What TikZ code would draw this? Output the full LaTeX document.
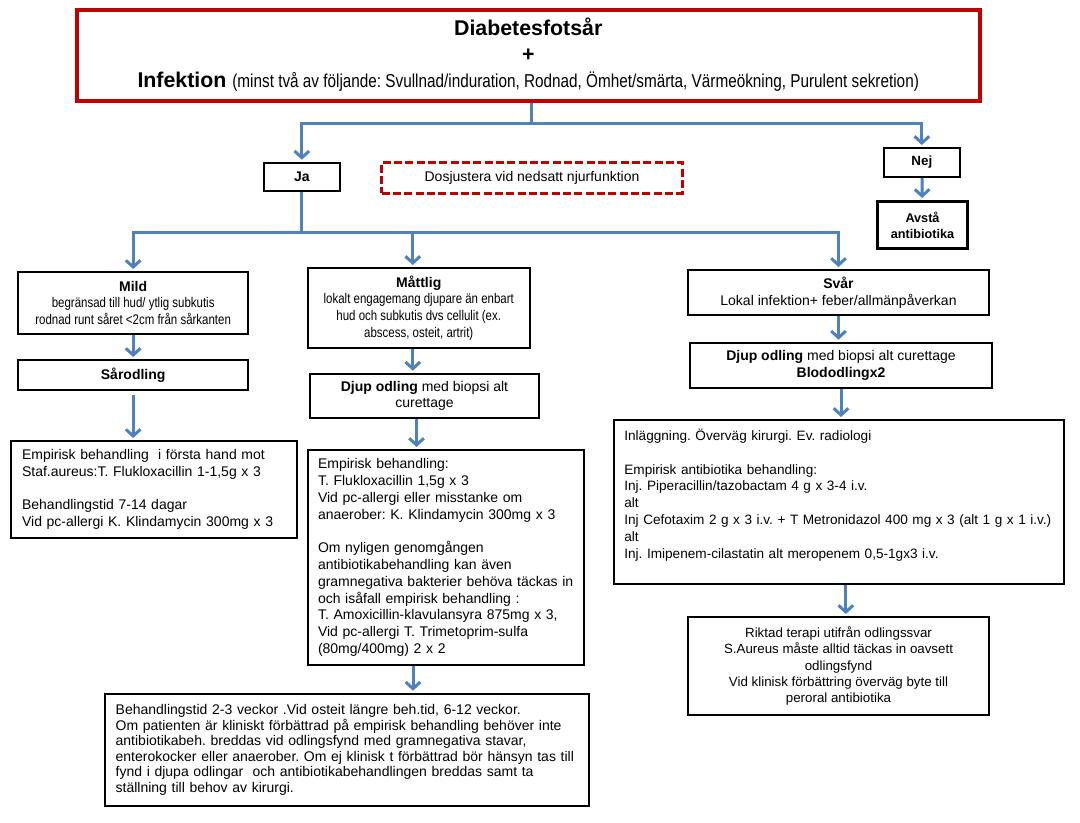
\documentclass[tikz,border=0pt]{standalone}
\usepackage{fontspec}
\setmainfont{Liberation Sans}
\newfontfamily\narrowfont{Liberation Sans}[FakeStretch=0.82]
\usetikzlibrary{arrows.meta,calc}

\definecolor{flowblue}{RGB}{79,129,189}
\definecolor{alertred}{RGB}{192,0,0}

\tikzset{every picture/.style={line width=0.75pt}}
\frenchspacing

\begin{document}
\begin{tikzpicture}[x=0.75pt,y=0.75pt,yscale=-1,xscale=1,
  box/.style={draw=black,line width=1.5pt,rectangle,anchor=north west,inner sep=0pt,align=center,font=\fontsize{10.5}{12.6}\selectfont},
  leftbox/.style={box,align=left,inner xsep=8pt},
  flow/.style={draw=flowblue,line width=2.25pt,-{Straight Barb[length=5pt,width=11pt]},shorten >=1.5pt},
  trunk/.style={draw=flowblue,line width=2.25pt}]

\useasboundingbox (0,0) rectangle (1080,822);

%Shape: Rectangle
\node [box,draw=alertred,line width=3pt,minimum width=677.6pt,minimum height=68.25pt,font=\fontsize{16}{19.5}\selectfont\bfseries] (top) at (74.5,7.5) {Diabetesfotsår\\+\\Infektion {\narrowfont\mdseries\fontsize{14}{19.5}\selectfont (minst två av följande: Svullnad/induration, Rodnad, Ömhet/smärta, Värmeökning, Purulent sekretion)}};
%Shape: Rectangle
\node [box,minimum width=57.2pt,minimum height=21.2pt,font=\fontsize{10.5}{12.6}\selectfont\bfseries] (ja) at (262.7,161.7) {Ja};
%Shape: Rectangle
\node [box,draw=alertred,line width=2.25pt,dash pattern=on 6pt off 2.5pt,minimum width=225.75pt,minimum height=22.9pt] (dos) at (380,161) {Dosjustera vid nedsatt njurfunktion};
%Shape: Rectangle
\node [box,minimum width=57.2pt,minimum height=21.75pt,font=\fontsize{10}{12.2}\selectfont\bfseries] (nej) at (882.7,147) {Nej};
%Shape: Rectangle
\node [box,line width=2.25pt,minimum width=67.5pt,minimum height=35.25pt,font=\fontsize{9.5}{12.2}\selectfont\bfseries] (avsta) at (876,200) {Avstå\\antibiotika};

% Mild
\node [box,minimum width=172.3pt,minimum height=46.3pt] (mild) at (17.3,271) {\textbf{Mild}\\{\narrowfont begränsad till hud/ ytlig subkutis}\\{\narrowfont rodnad runt såret <2cm från sårkanten}};
\node [box,minimum width=172.3pt,minimum height=22.5pt,font=\fontsize{10.5}{12.6}\selectfont\bfseries] (sarod) at (17.3,359) {Sårodling};
\node [leftbox,minimum width=214.2pt,minimum height=72.75pt,text width=198.2pt] (mildemp) at (10.4,440) {Empirisk behandling~ i första hand mot\\Staf.aureus:T. Flukloxacillin 1-1,5g x 3\\[12.6pt]Behandlingstid 7-14 dagar\\Vid pc-allergi K. Klindamycin 300mg x 3};

% Mattlig
\node [box,minimum width=166.9pt,minimum height=60pt] (matt) at (306.5,267) {\textbf{Måttlig}\\{\narrowfont lokalt engagemang djupare än enbart}\\{\narrowfont hud och subkutis dvs cellulit (ex.}\\{\narrowfont abscess, osteit, artrit)}};
\node [box,minimum width=171.75pt,minimum height=33.2pt] (mdjup) at (309,372.7) {\textbf{Djup odling} med biopsi alt\\curettage};
\node [leftbox,inner xsep=7.5pt,minimum width=207pt,minimum height=161.25pt,text width=192pt] (memp) at (307,449) {Empirisk behandling:\\T. Flukloxacillin 1,5g x 3\\Vid pc-allergi eller misstanke om\\anaerober: K. Klindamycin 300mg x 3\\[12.6pt]Om nyligen genomgången\\antibiotikabehandling kan även\\gramnegativa bakterier behöva täckas in\\och isåfall empirisk behandling :\\T. Amoxicillin-klavulansyra 875mg x 3,\\Vid pc-allergi T. Trimetoprim-sulfa\\(80mg/400mg) 2 x 2};
\node [leftbox,inner xsep=8pt,minimum width=363pt,minimum height=84.2pt,text width=347pt,font=\fontsize{10.5}{11.6}\selectfont] (bottom) at (104,692.7) {Behandlingstid 2-3 veckor .Vid osteit längre beh.tid, 6-12 veckor.\\Om patienten är kliniskt förbättrad på empirisk behandling behöver inte\\antibiotikabeh. breddas vid odlingsfynd med gramnegativa stavar,\\enterokocker eller anaerober. Om ej klinisk t förbättrad bör hänsyn tas till\\fynd i djupa odlingar~ och antibiotikabehandlingen breddas samt ta\\ställning till behov av kirurgi.};

% Svar
\node [box,minimum width=225.75pt,minimum height=33.75pt] (svar) at (687,269) {\textbf{Svår}\\Lokal infektion+ feber/allmänpåverkan};
\node [box,minimum width=226.5pt,minimum height=34pt] (rdjup) at (689,341.7) {\textbf{Djup odling} med biopsi alt curettage\\\textbf{Blododlingx2}};
\node [leftbox,minimum width=337.7pt,minimum height=123pt,text width=321.7pt,font=\fontsize{10.2}{12.6}\selectfont] (remp) at (612.7,419) {Inläggning. Överväg kirurgi. Ev. radiologi\\[12.6pt]Empirisk antibiotika behandling:\\Inj. Piperacillin/tazobactam 4 g x 3-4 i.v.\\alt\\\mbox{Inj Cefotaxim 2 g x 3 i.v. + T Metronidazol 400 mg x 3 (alt 1 g x 1 i.v.)}\\alt\\Inj. Imipenem-cilastatin alt meropenem 0,5-1gx3 i.v.\\\mbox{}};
\node [box,minimum width=225.75pt,minimum height=73.5pt,font=\fontsize{10}{12.2}\selectfont] (final) at (687,616) {Riktad terapi utifrån odlingssvar\\S.Aureus måste alltid täckas in oavsett\\odlingsfynd\\Vid klinisk förbättring överväg byte till\\peroral antibiotika};

%Straight Lines
\coordinate (jTop) at (531,123);
\coordinate (jJa) at ($(ja.south)+(0,40.5)$);
\coordinate (mattOut) at ($(matt.south)+(-6,0)$);
\coordinate (mdjupOut) at ($(mdjup.south)+(-8,0)$);
\coordinate (mempOut) at ($(memp.south)+(-33,0)$);
\coordinate (rempOut) at ($(remp.south)+(7,0)$);

\draw [trunk] (top.south -| jTop) -- (jTop);
\draw [flow] (jTop) -| (ja);
\draw [flow] (jTop) -| (nej);
\draw [flow] (nej) -- (avsta);
\draw [trunk] (ja.south) -- (jJa);
\draw [flow] (jJa) -| (mild);
\draw [flow] (jJa) -| (mattOut |- matt.north);
\draw [flow] (jJa) -| (svar);
\draw [flow] (mild) -- (sarod);
\draw [flow,shorten <=3pt] (sarod.south) -- (sarod.south |- mildemp.north);
\draw [flow] (mattOut) -- (mattOut |- mdjup.north);
\draw [flow] (mdjupOut) -- (mdjupOut |- memp.north);
\draw [flow] (mempOut) -- (mempOut |- bottom.north);
\draw [flow] (svar.south) -- (svar.south |- rdjup.north);
\draw [flow] (rdjup.south) -- (rdjup.south |- remp.north);
\draw [flow] (rempOut) -- (rempOut |- final.north);

\end{tikzpicture}
\end{document}
